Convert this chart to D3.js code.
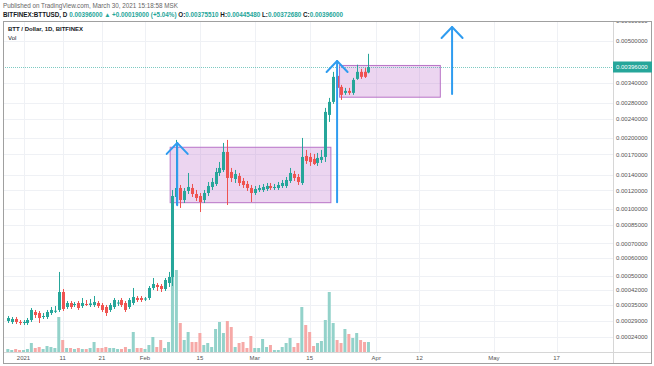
<!DOCTYPE html>
<html><head><meta charset="utf-8">
<script src="https://cdn.jsdelivr.net/npm/d3@7"></script>
<style>html,body{margin:0;padding:0;background:#fff;}svg{display:block;font-family:"Liberation Sans",Arial,sans-serif;}</style>
</head><body><svg id="c" width="654" height="366"></svg>
<script>
// ---------- DATA ----------
const firstDay = "2020-12-28";
const open = [0.0002899,0.0002864,0.000297,0.0002864,0.000283,0.000283,0.0002934,0.0003231,0.0003192,0.0003042,0.0003042,0.0003192,0.000327,0.000331,0.000411,0.0003431,0.00036,0.0003515,0.00036,0.0003473,0.0003557,0.0003515,0.0003515,0.00036,0.0003515,0.0003431,0.000331,0.0003431,0.00036,0.0003733,0.00036,0.0003431,0.00036,0.0003824,0.0003824,0.0003778,0.0003824,0.0004313,0.0004471,0.0004418,0.0004261,0.000458,0.000492,0.0011264,0.001229,0.0010942,0.0011938,0.001229,0.0011596,0.0011374,0.0010942,0.0011709,0.0012409,0.0012775,0.001421,0.0014629,0.0017415,0.0014348,0.00134,0.0013803,0.0013151,0.0012775,0.001229,0.0011709,0.0012054,0.0012054,0.0012171,0.001253,0.001229,0.001229,0.001253,0.001253,0.0013151,0.0014073,0.001367,0.0012899,0.0016753,0.0016592,0.0016273,0.0015655,0.0016116,0.0016592,0.0024915,0.0028256,0.003634,0.003267,0.003083,0.003143,0.003083,0.00353,0.003778,0.00378,0.0037551];
const high = [0.0003079,0.0003042,0.0003042,0.0002934,0.0002934,0.0003006,0.000339,0.000331,0.000327,0.0003192,0.000331,0.0003431,0.0003473,0.00052,0.0004261,0.0003688,0.0003688,0.0003644,0.0003688,0.0003824,0.0003733,0.0003778,0.0003917,0.0003688,0.00036,0.0003515,0.00036,0.0003824,0.0003733,0.0003824,0.0003688,0.0003824,0.0004313,0.0003917,0.0003917,0.000387,0.0004418,0.0004864,0.000458,0.0004525,0.0004864,0.00052,0.0012054,0.001956,0.0012652,0.001229,0.001421,0.0012775,0.0012054,0.0011709,0.0012054,0.0013025,0.0013539,0.0014915,0.0015807,0.0019,0.001956,0.0014915,0.0014629,0.001421,0.0013539,0.0013151,0.0012652,0.001253,0.0012652,0.0012775,0.0012899,0.0012899,0.0012775,0.0013025,0.0013279,0.001367,0.0014915,0.00145,0.0014073,0.001994,0.0017755,0.0017247,0.0017081,0.0017247,0.0017755,0.002666,0.002937,0.003778,0.004004,0.003331,0.003236,0.003236,0.003565,0.004043,0.00389,0.00392,0.0044548];
const low = [0.000283,0.0002796,0.0002796,0.0002763,0.0002763,0.0002763,0.0002864,0.0003006,0.000283,0.000297,0.000297,0.0003116,0.0003192,0.0003231,0.000327,0.000335,0.000335,0.0003431,0.000331,0.000339,0.0003473,0.0003431,0.0003431,0.000339,0.0003231,0.0003079,0.0003231,0.000335,0.0003473,0.0003431,0.0003231,0.000335,0.0003515,0.0003644,0.0003644,0.0003688,0.0003733,0.000421,0.000416,0.000411,0.000416,0.0004365,0.0004418,0.0010425,0.001013,0.0010629,0.0011596,0.0011264,0.0010836,0.000972,0.0010629,0.0011374,0.0012054,0.001253,0.0013803,0.0014348,0.0010425,0.0013025,0.0012899,0.001253,0.001229,0.0011938,0.0010732,0.0011484,0.0011823,0.0011823,0.0011938,0.0012054,0.0012054,0.0012054,0.001229,0.001229,0.0012899,0.0013151,0.0012652,0.0012652,0.0015504,0.0015207,0.0015355,0.0015207,0.0015655,0.0015807,0.002328,0.002771,0.003113,0.002881,0.003024,0.003024,0.003024,0.003496,0.00353,0.00356,0.0037268];
const close = [0.0003006,0.000297,0.0002864,0.000283,0.0002864,0.0002934,0.000331,0.0003116,0.0003006,0.0003079,0.0003231,0.000331,0.000328,0.000411,0.000335,0.00036,0.0003431,0.0003557,0.000339,0.00036,0.000354,0.000358,0.0003644,0.0003473,0.000331,0.0003192,0.0003515,0.0003733,0.000362,0.0003515,0.000331,0.0003733,0.000387,0.0003733,0.0003733,0.00038,0.0004313,0.0004525,0.0004365,0.0004261,0.0004748,0.0004922,0.0011374,0.001229,0.0010942,0.0011938,0.0012409,0.0011596,0.0011156,0.0010732,0.0011709,0.001253,0.0013025,0.0014348,0.0014915,0.0017415,0.0013539,0.0013539,0.0014073,0.0012899,0.0012652,0.001229,0.0011709,0.0012171,0.001229,0.0012409,0.001253,0.001229,0.0012409,0.0012652,0.0012899,0.0013279,0.001421,0.0013539,0.0013025,0.0016592,0.0015961,0.0015807,0.0015504,0.0016432,0.0016592,0.0025649,0.0028256,0.003599,0.003236,0.003024,0.003143,0.003083,0.003496,0.003778,0.0036,0.0036,0.00396];
const volume = [3,2,3,2,2,3,9,4,5,3,6,5,4,35,12,4,4,3,4,3,3,4,10,4,4,5,4,4,3,3,5,3,20,4,4,3,7,15,5,12,4,10,94,82,29,12,20,10,10,19,7,9,5,23,30,19,31,25,5,9,10,4,16,4,4,13,5,7,2,2,5,9,14,5,9,45,27,20,6,9,11,32,60,29,12,9,23,18,14,19,12,10,10];

const priceTicks = [0.00024,0.00029,0.00035,0.00042,0.0005,0.0006,0.0007,0.00085,0.001,0.0012,0.0014,0.0017,0.002,0.0024,0.0028,0.0034,0.005,0.006];
const timeTicks = ["2021-01-01","2021-01-11","2021-01-21","2021-02-01","2021-02-15","2021-03-01","2021-03-15","2021-04-01","2021-04-12","2021-05-01","2021-05-17"];
const timeTickLabels = ["2021","11","21","Feb","15","Mar","15","Apr","12","May","17"];

const boxStart = ["2021-02-07T10:00Z","2021-03-22T15:00Z"];
const boxEnd   = ["2021-03-20T10:00Z","2021-04-17T08:00Z"];
const boxLow   = [0.001066,0.002957];
const boxHigh  = [0.001822,0.004015];

const arrowDate = ["2021-02-09T05:00Z","2021-03-22T00:00Z","2021-04-20T08:00Z"];
const arrowFrom = [0.00104,0.00107,0.00305];
const arrowTo   = [0.0019,0.00418,0.00566];

const lastPrice = 0.00396;

// ---------- LAYOUT ----------
const L = 3, T = 21, R = 652, B = 363, PR = 613, PB = 352;
const svg = d3.select("#c");

const x = d3.scaleUtc()
  .domain([new Date("2021-01-01T00:00Z"), new Date("2021-05-17T00:00Z")])
  .range([23.5, 556.6]);
const y = d3.scaleLog()
  .domain([0.00024, 0.0005, 0.001, 0.00396, 0.006])
  .range([336.7, 275.7, 209.3, 67, 20.5]);
const yv = d3.scaleLinear().domain([0, 100]).range([PB, PB - 100]);

const day0 = new Date(firstDay + "T00:00Z");
const dates = d3.utcDay.range(day0, d3.utcDay.offset(day0, close.length));
const bars = dates.map((d, i) => ({d, o: open[i], h: high[i], l: low[i], c: close[i], v: volume[i]}));

const GREEN = "#26a69a", RED = "#ef5350";

svg.append("clipPath").attr("id", "plot").append("rect")
  .attr("x", L).attr("y", T).attr("width", PR - L).attr("height", PB - T);
svg.append("clipPath").attr("id", "axis").append("rect")
  .attr("x", PR).attr("y", T + 1).attr("width", R - PR).attr("height", PB - T);

// header text
svg.append("text").attr("x", 3).attr("y", 8).attr("font-size", 6.3).attr("fill", "#666")
  .text("Published on TradingView.com, March 30, 2021 15:18:58 MSK");
const h2 = svg.append("text").attr("x", 3).attr("y", 17).attr("font-size", 6.3).attr("font-weight", "bold");
[["BITFINEX:BTTUSD, D ", "#131722"], ["0.00396000 \u25B2 +0.00019000 (+5.04%) ", GREEN],
 ["O:", "#131722"], ["0.00375510 ", GREEN], ["H:", "#131722"], ["0.00445480 ", GREEN],
 ["L:", "#131722"], ["0.00372680 ", GREEN], ["C:", "#131722"], ["0.00396000", GREEN]]
  .forEach(([t, c]) => h2.append("tspan").attr("fill", c).text(t));

// grid
const g = svg.append("g").attr("clip-path", "url(#plot)");
g.selectAll("line.hg").data(priceTicks).join("line")
  .attr("x1", L).attr("x2", PR).attr("y1", d => Math.round(y(d)) + 0.5).attr("y2", d => Math.round(y(d)) + 0.5)
  .attr("stroke", "#eff1f5");
g.selectAll("line.vg").data(timeTicks).join("line")
  .attr("x1", d => Math.round(x(new Date(d + "T00:00Z"))) + 0.5).attr("x2", d => Math.round(x(new Date(d + "T00:00Z"))) + 0.5)
  .attr("y1", T).attr("y2", PB).attr("stroke", "#eff1f5");

// volume
g.selectAll("rect.vol").data(bars).join("rect")
  .attr("x", d => x(d.d) - 1.5).attr("width", 3)
  .attr("y", d => yv(d.v)).attr("height", d => PB - yv(d.v))
  .attr("fill", d => d.c >= d.o ? "#93d2ca" : "#f6a9a7");

// boxes
g.selectAll("rect.box").data(boxStart).join("rect")
  .attr("x", (d, i) => x(new Date(d)))
  .attr("width", (d, i) => x(new Date(boxEnd[i])) - x(new Date(d)))
  .attr("y", (d, i) => y(boxHigh[i]))
  .attr("height", (d, i) => y(boxLow[i]) - y(boxHigh[i]))
  .attr("fill", "rgba(186,104,200,0.28)").attr("stroke", "#b873c7").attr("stroke-width", 1);

// price line
g.append("line").attr("x1", L).attr("x2", PR)
  .attr("y1", Math.round(y(lastPrice)) + 0.5).attr("y2", Math.round(y(lastPrice)) + 0.5)
  .attr("stroke", GREEN).attr("stroke-opacity", 0.6).attr("stroke-dasharray", "1,1");

// candles
const cg = g.append("g");
cg.selectAll("line.wick").data(bars).join("line")
  .attr("x1", d => Math.round(x(d.d)) + 0.5).attr("x2", d => Math.round(x(d.d)) + 0.5)
  .attr("y1", d => y(d.h)).attr("y2", d => y(d.l))
  .attr("stroke", d => d.c >= d.o ? GREEN : RED).attr("stroke-width", 1);
cg.selectAll("rect.body").data(bars).join("rect")
  .attr("x", d => Math.round(x(d.d)) - 1).attr("width", 3)
  .attr("y", d => y(Math.max(d.o, d.c)))
  .attr("height", d => Math.max(1, Math.abs(y(d.o) - y(d.c))))
  .attr("fill", d => d.c >= d.o ? GREEN : RED);

// arrows
const ag = g.append("g").attr("stroke", "#2f9cf0").attr("stroke-width", 2).attr("fill", "none")
  .attr("stroke-linecap", "round").attr("stroke-linejoin", "round");
arrowDate.forEach((d, i) => {
  const ax = x(new Date(d)), y0 = y(arrowFrom[i]), y1 = y(arrowTo[i]);
  ag.append("line").attr("x1", ax).attr("x2", ax).attr("y1", y0).attr("y2", y1);
  ag.append("path").attr("d", `M${ax - 10.5},${y1 + 11}L${ax},${y1}L${ax + 10.5},${y1 + 11}`);
});

// legend
svg.append("text").attr("x", 8).attr("y", 31).attr("font-size", 6).attr("font-weight", "bold").attr("fill", "#131722")
  .text("BTT / Dollar, 1D, BITFINEX");
svg.append("text").attr("x", 8).attr("y", 40).attr("font-size", 6).attr("fill", "#131722").text("Vol");

// frame / separators
svg.append("line").attr("x1", PR + 0.5).attr("x2", PR + 0.5).attr("y1", T).attr("y2", B).attr("stroke", "#d6d6d6");
svg.append("line").attr("x1", L).attr("x2", R).attr("y1", PB + 0.5).attr("y2", PB + 0.5).attr("stroke", "#d6d6d6");
svg.append("rect").attr("x", L + 0.5).attr("y", T + 0.5).attr("width", R - L - 1).attr("height", B - T)
  .attr("fill", "none").attr("stroke", "#a0a0a0");

// right axis labels
const ya = svg.append("g").attr("font-size", 6).attr("fill", "#555").attr("clip-path", "url(#axis)");
ya.selectAll("text").data(priceTicks).join("text")
  .attr("x", 616).attr("y", d => y(d)).attr("dy", "0.35em").text(d => d.toFixed(8));

// price badge
svg.append("rect").attr("x", PR).attr("y", y(lastPrice) - 5.5).attr("width", 39).attr("height", 11).attr("fill", GREEN);
svg.append("text").attr("x", 616).attr("y", y(lastPrice)).attr("dy", "0.35em").attr("font-size", 6).attr("fill", "#fff")
  .text(lastPrice.toFixed(8));

// time axis labels
svg.append("g").attr("font-size", 6).attr("fill", "#555").attr("text-anchor", "middle")
  .selectAll("text").data(timeTicks).join("text")
  .attr("x", d => x(new Date(d + "T00:00Z"))).attr("y", 360)
  .text((d, i) => timeTickLabels[i]);
</script></body></html>
